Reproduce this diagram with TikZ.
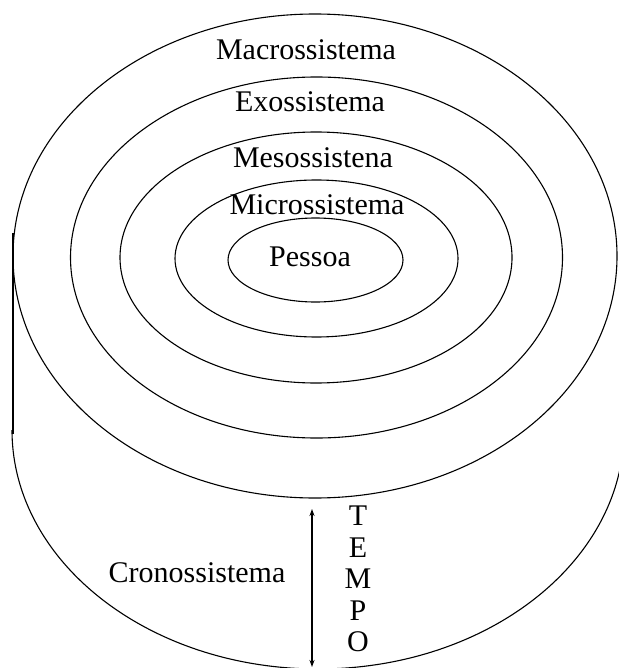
\documentclass[tikz,border=0pt]{standalone}
\usepackage{fontspec}
\setmainfont{Liberation Serif}
\usetikzlibrary{arrows.meta}
\tikzset{
  rotulo/.style={font=\fontsize{30}{31.4}\selectfont,inner sep=0pt},
  tempo/.style={rotulo,align=center}
}

\begin{document}
\begin{tikzpicture}[>={Stealth[length=7pt,width=5pt]},x=1pt,y=-1pt,line width=1.1pt]
  \useasboundingbox (0,0) rectangle (618,668);
  \coordinate (O) at (315,256);
  \coordinate (B) at (318,430);
  \coordinate (L1) at (13,233);
  \coordinate (L2) at (13,434);
  \coordinate (T1) at (312,509);
  \coordinate (T2) at (312,667);
  \draw (O) ellipse [x radius=302pt,y radius=242pt];
  \draw (316.5,257.5) ellipse [x radius=246pt,y radius=180.5pt];
  \draw (316,257.5) ellipse [x radius=196pt,y radius=125.5pt];
  \draw (316.5,258.5) ellipse [x radius=141.5pt,y radius=78.5pt];
  \draw (315.5,260) ellipse [x radius=87.5pt,y radius=42pt];
  \draw (L1) -- (L2);
  \draw (12,430) arc [start angle=180,end angle=360,x radius=306pt,y radius=239pt];
  \draw[<->,line width=1.3pt] (T1) -- (T2);
  \node[rotulo] (macro) at (306,50) {Macrossistema};
  \node[rotulo] (exo) at (310,102) {Exossistema};
  \node[rotulo] (meso) at (313,158) {Mesossistena};
  \node[rotulo] (micro) at (317,205) {Microssistema};
  \node[rotulo] (pessoa) at (310,257) {Pessoa};
  \node[rotulo] (crono) at (197,573) {Cronossistema};
  \node[tempo] (tempo) at (358,579) {T\\E\\M\\P\\O};
\end{tikzpicture}
\end{document}
